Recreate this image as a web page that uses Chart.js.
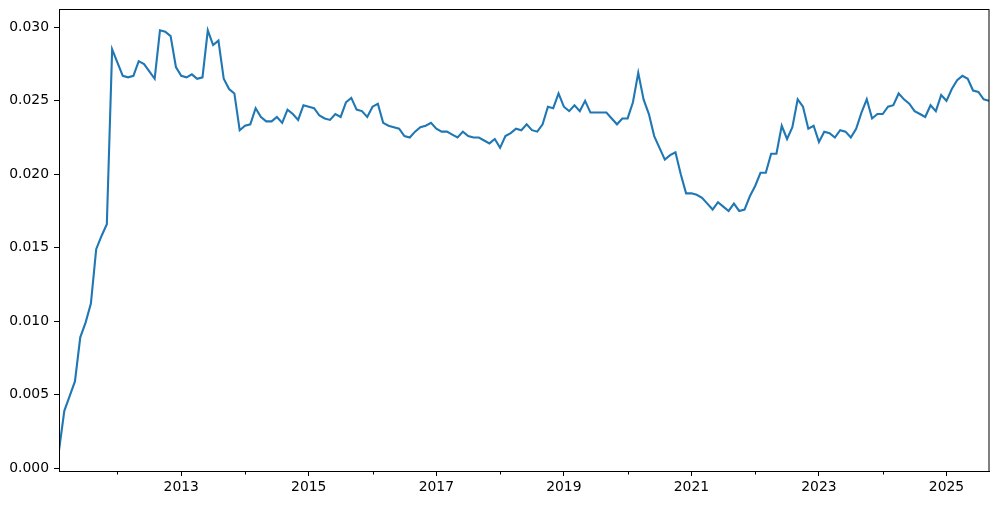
<!DOCTYPE html>
<html>
<head>
<meta charset="utf-8">
<script src="https://cdn.jsdelivr.net/npm/chart.js@4.4.1/dist/chart.umd.min.js"></script>
<style>
  html, body { margin: 0; padding: 0; background: #ffffff; }
  #wrap { width: 999px; height: 505px; }
</style>
</head>
<body>
<div id="wrap"><canvas id="c" width="999" height="505"></canvas></div>
<script>
// ---- data ----
const firstMonth = "2011-01"; // month-end observations, monthly
const values = [
  0.0012, 0.0039, 0.0049, 0.0059, 0.0089, 0.0099, 0.0112, 0.0149, 0.0158, 0.0166,
  0.0285, 0.0276, 0.0267, 0.0266, 0.0267, 0.0277, 0.0275, 0.0270, 0.0265, 0.0298,
  0.0297, 0.0294, 0.0273, 0.0267, 0.0266, 0.0268, 0.0265, 0.0266, 0.0298, 0.0288,
  0.0291, 0.0265, 0.0258, 0.0255, 0.0230, 0.0233, 0.0234, 0.0245, 0.0239, 0.0236,
  0.0236, 0.0239, 0.0235, 0.0244, 0.0241, 0.0237, 0.0247, 0.0246, 0.0245, 0.0240,
  0.0238, 0.0237, 0.0241, 0.0239, 0.0249, 0.0252, 0.0244, 0.0243, 0.0239, 0.0246,
  0.0248, 0.0235, 0.0233, 0.0232, 0.0231, 0.0226, 0.0225, 0.0229, 0.0232, 0.0233,
  0.0235, 0.0231, 0.0229, 0.0229, 0.0227, 0.0225, 0.0229, 0.0226, 0.0225, 0.0225,
  0.0223, 0.0221, 0.0224, 0.0218, 0.0226, 0.0228, 0.0231, 0.0230, 0.0234, 0.0230,
  0.0229, 0.0234, 0.0246, 0.0245, 0.0255, 0.0246, 0.0243, 0.0247, 0.0243, 0.0250,
  0.0242, 0.0242, 0.0242, 0.0242, 0.0238, 0.0234, 0.0238, 0.0238, 0.0249, 0.0269,
  0.0251, 0.0241, 0.0226, 0.0218, 0.0210, 0.0213, 0.0215, 0.0200, 0.0187, 0.0187,
  0.0186, 0.0184, 0.0180, 0.0176, 0.0181, 0.0178, 0.0175, 0.0180, 0.0175, 0.0176,
  0.0185, 0.0192, 0.0201, 0.0201, 0.0214, 0.0214, 0.0233, 0.0224, 0.0232, 0.0251,
  0.0246, 0.0231, 0.0233, 0.0222, 0.0229, 0.0228, 0.0225, 0.0230, 0.0229, 0.0225,
  0.0231, 0.0242, 0.0251, 0.0238, 0.0241, 0.0241, 0.0246, 0.0247, 0.0255, 0.0251,
  0.0248, 0.0243, 0.0241, 0.0239, 0.0247, 0.0243, 0.0254, 0.0250, 0.0258, 0.0264,
  0.0267, 0.0265, 0.0257, 0.0256, 0.0251, 0.0250
];
const majorYears = [2013, 2015, 2017, 2019, 2021, 2023, 2025];
const minorYears = [2012, 2014, 2016, 2018, 2020, 2022, 2024];
const yTicks = [0.000, 0.005, 0.010, 0.015, 0.020, 0.025, 0.030];
const yMin = -0.0002;
const yMax = 0.03125;

// month labels -> decimal year at month end
const [fy, fm] = firstMonth.split("-").map(Number);
const months = values.map((_, i) => {
  const t = (fm - 1) + i;
  const y = fy + Math.floor(t / 12);
  const m = (t % 12) + 1;
  return y + "-" + String(m).padStart(2, "0");
});
const xs = months.map(s => {
  const [y, m] = s.split("-").map(Number);
  return y + m / 12;
});
const points = values.map((v, i) => ({ x: xs[i], y: v }));

const FONT = { family: "'DejaVu Sans', sans-serif", size: 13.9 };

const framePlugin = {
  id: 'frame',
  afterDraw(chart) {
    const { ctx, chartArea: a, scales } = chart;
    ctx.save();
    ctx.strokeStyle = '#000';
    ctx.lineWidth = 1;
    ctx.strokeRect(Math.round(a.left) + 0.5, Math.round(a.top) + 0.5,
                   Math.round(a.right - a.left) - 0.5, Math.round(a.bottom - a.top));
    // minor ticks
    const sx = scales.x;
    ctx.beginPath();
    minorYears.forEach(yr => {
      const px = Math.round(sx.getPixelForValue(yr)) + 0.5;
      ctx.moveTo(px, a.bottom);
      ctx.lineTo(px, a.bottom + 3.5);
    });
    ctx.stroke();
    ctx.restore();
  }
};

new Chart(document.getElementById('c'), {
  type: 'line',
  data: {
    datasets: [{
      data: points,
      borderColor: '#1f77b4',
      borderWidth: 2.1,
      pointRadius: 0,
      tension: 0,
      fill: false
    }]
  },
  options: {
    responsive: false,
    animation: false,
    devicePixelRatio: 1,
    layout: { padding: { top: 9, right: 10, left: 0, bottom: 0 } },
    plugins: { legend: { display: false }, tooltip: { enabled: false } },
    scales: {
      x: {
        type: 'linear',
        min: xs[0],
        max: xs[xs.length - 1],
        afterBuildTicks: s => { s.ticks = majorYears.map(v => ({ value: v })); },
        afterFit: s => { s.height = 34; s.paddingLeft = 0; s.paddingRight = 0; },
        ticks: {
          callback: v => String(v),
          font: FONT, color: '#000', padding: 3,
          maxRotation: 0, autoSkip: false
        },
        grid: {
          display: true, drawOnChartArea: false, drawTicks: true,
          tickLength: 5, tickColor: '#000', tickWidth: 1
        },
        border: { display: true, color: '#000', width: 1 }
      },
      y: {
        min: yMin,
        max: yMax,
        afterBuildTicks: s => { s.ticks = yTicks.map(v => ({ value: v })); },
        afterFit: s => { s.width = 59; s.paddingTop = 0; s.paddingBottom = 0; },
        ticks: {
          callback: v => Number(v).toFixed(3),
          font: FONT, color: '#000', padding: 5, autoSkip: false
        },
        grid: {
          display: true, drawOnChartArea: false, drawTicks: true,
          tickLength: 5, tickColor: '#000', tickWidth: 1
        },
        border: { display: true, color: '#000', width: 1 }
      }
    }
  },
  plugins: [framePlugin]
});
</script>
</body>
</html>
